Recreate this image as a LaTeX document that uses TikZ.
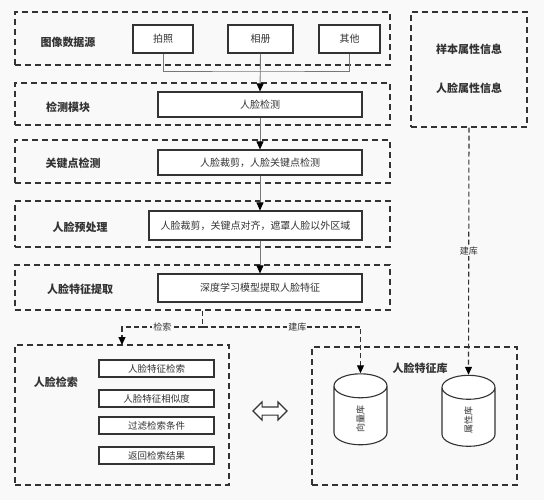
\documentclass[tikz,border=0pt]{standalone}
\usepackage{fontspec}
\setmainfont{Noto Sans CJK SC}
\usepackage{tikz}
\usetikzlibrary{shapes.geometric}
\usetikzlibrary{shapes.arrows}
\usetikzlibrary{arrows.meta}
\usetikzlibrary{calc}
\definecolor{inkgray}{HTML}{333333}
\definecolor{linegray}{HTML}{777777}
\definecolor{paper}{HTML}{F9F9F9}

\begin{document}
\begin{tikzpicture}[x=1pt, y=-1pt]
				\tikzstyle{groupbox}=[draw=inkgray, line width=1.1pt, dash pattern=on 6pt off 4pt, minimum height=45, minimum width=375, fill=none]
				\tikzstyle{stepbox}=[draw=inkgray, line width=1.1pt, minimum height=25, minimum width=204, fill=white, text=inkgray, font=\fontsize{10}{12}\selectfont]
				\tikzstyle{smallbox}=[draw=inkgray, line width=1.1pt, minimum height=17, minimum width=115, fill=white, text=inkgray, font=\fontsize{9.5}{11}\selectfont]
				\tikzstyle{grouplabel}=[text=inkgray, font=\fontsize{11}{13}\selectfont\bfseries]
				\tikzstyle{dbnode}=[cylinder, draw=inkgray, line width=1.1pt, rotate=90, minimum width=53, minimum height=71, aspect=1.6, fill=white, text=inkgray, font=\fontsize{9}{11}\selectfont]
				\tikzstyle{flow}=[draw=linegray, line width=0.9pt]
				\tikzstyle{link}=[draw=inkgray, line width=1.1pt, dash pattern=on 5pt off 3pt]
				\tikzstyle{tip}=[-{Triangle[length=8pt,width=7pt,color=black]}]
				\tikzstyle{linklabel}=[fill=paper, inner sep=1pt, text=inkgray, font=\fontsize{9}{11}\selectfont]
				
				\fill[paper] (0,0) rectangle (544,500);
				\useasboundingbox (0,0) rectangle (544,500);
				
				% groups
				\node (src)  at (202.5,38.5) [groupbox, minimum height=53] {};
				\node (det)  at (202.5,104)  [groupbox, minimum height=42] {};
				\node (kp)   at (202.5,161.5) [groupbox, minimum height=43] {};
				\node (pre)  at (202.5,224)  [groupbox, minimum height=46] {};
				\node (feat) at (202.5,287.5) [groupbox, minimum height=45] {};
				\node (search) at (122,415) [groupbox, minimum width=214, minimum height=140] {};
				\node (lib)  at (414.5,416) [groupbox, minimum width=205, minimum height=138] {};
				\node (attr) at (469,69.5)  [groupbox, minimum width=116, minimum height=115] {};
				
				\node (srcL)  at (68,42)  [grouplabel] {图像数据源};
				\node (detL)  at (68,107) [grouplabel] {检测模块};
				\node (kpL)   at (73,163) [grouplabel] {关键点检测};
				\node (preL)  at (80,227) [grouplabel] {人脸预处理};
				\node (featL) at (80,289) [grouplabel] {人脸特征提取};
				\node (searchL) at (56,382) [grouplabel] {人脸检索};
				\node (libL)  at (420,368) [grouplabel] {人脸特征库};
				\node (attrA) at (469,49) [grouplabel] {样本属性信息};
				\node (attrB) at (469,88) [grouplabel] {人脸属性信息};
				
				% image sources
				\node (pz) at (163,39) [stepbox, minimum width=60, minimum height=28] {拍照};
				\node (xc) at (260.5,39) [stepbox, minimum width=65, minimum height=28] {相册};
				\node (qt) at (349.5,39) [stepbox, minimum width=61, minimum height=28] {其他};
				
				% pipeline steps
				\node (rl) at (260,104.5) [stepbox] {人脸检测};
				\node (cj) at (260,162.5) [stepbox] {人脸裁剪，人脸关键点检测};
				\node (yc) at (255.5,225.5) [stepbox, minimum width=213, minimum height=29] {人脸裁剪，关键点对齐，遮罩人脸以外区域};
				\node (tz) at (260,288) [stepbox, minimum height=28] {深度学习模型提取人脸特征};
				
				% search steps
				\node (s1) at (156.5,368.5) [smallbox] {人脸特征检索};
				\node (s2) at (156.5,398.5) [smallbox] {人脸特征相似度};
				\node (s3) at (156.5,425.5) [smallbox] {过滤检索条件};
				\node (s4) at (156.5,455.5) [smallbox] {返回检索结果};
				
				% feature stores
				\node (vec) at (360.5,418.5) [dbnode] {向量库};
				\node (atv) at (468.5,420) [dbnode] {属性库};
				
				\node (both) at (270,411) [double arrow, draw=inkgray, line width=1.1pt, fill=white, minimum height=34, inner sep=3.5pt, double arrow head extend=5pt] {};
				
				\coordinate (join) at (260.5,71);
				\coordinate (searchIn) at (122,345);
				\coordinate (split) at (202.5,327);
				
				\draw [flow] (pz.south) |- (join) -| (qt.south);
				\draw [flow, tip] (xc.south) -- (rl.north);
				\draw [flow, tip] (rl.south) -- (cj.north);
				\draw [flow, tip] (cj.south) -- (cj.south |- yc.north);
				\draw [flow, tip] (cj.south |- yc.south) -- (tz.north);
				
				\draw [link] (feat.south) -- (split);
				\draw [link, tip] (split) -| (searchIn) node [pos=0.25, linklabel] {检索};
				\draw [link, tip] (split) -| (vec.east) node [pos=0.3, linklabel] {建库};
				\draw [link, tip] (attr.south) -- (atv.east) node [pos=0.5, linklabel] {建库};
				
\end{tikzpicture}
\end{document}
